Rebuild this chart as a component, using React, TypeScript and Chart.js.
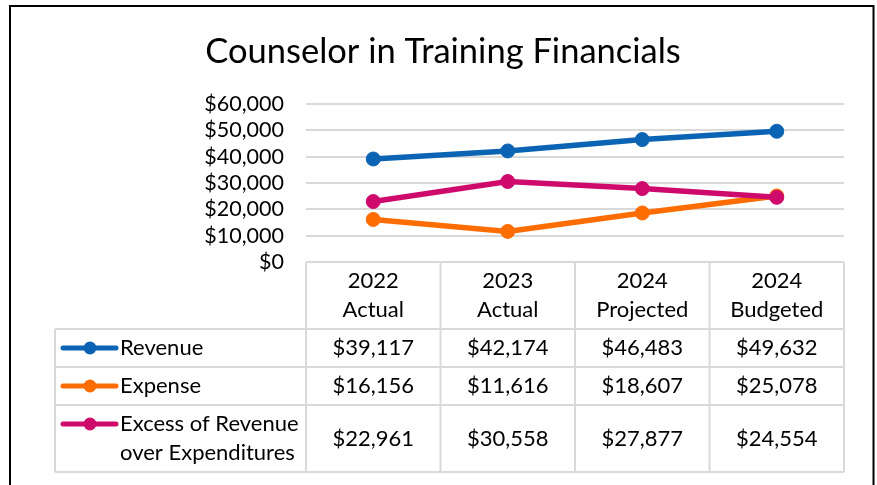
import React, { useEffect, useRef } from "react";
import { Chart, registerables } from "chart.js";

Chart.register(...registerables);

const chartTitle = "Counselor in Training Financials";
const categoryLines: string[][] = [
  ["2022", "Actual"],
  ["2023", "Actual"],
  ["2024", "Projected"],
  ["2024", "Budgeted"],
];
const seriesLabels: string[][] = [
  ["Revenue"],
  ["Expense"],
  ["Excess of Revenue", "over Expenditures"],
];
const revenue = [39117, 42174, 46483, 49632];
const expense = [16156, 11616, 18607, 25078];
const excess = [22961, 30558, 27877, 24554];
const yMin = 0;
const yMax = 60000;
const yStep = 10000;

const seriesValues = [revenue, expense, excess];
const seriesColors = ["#0B64B3", "#FF6D01", "#CF0A6D"];

const FONT = "Lato";
const TEXT_SIZE = 22;
const LINE_H = 29;
const GRID = "#D9D9D9";

const fmt = (v: number) => "$" + v.toLocaleString("en-US");

const tablePlugin = {
  id: "dataTable",
  afterDraw(chart: any) {
    const ctx: CanvasRenderingContext2D = chart.ctx;
    const xs = chart.scales.x;
    const area = chart.chartArea;
    const n = categoryLines.length;
    const half = (xs.getPixelForValue(1) - xs.getPixelForValue(0)) / 2;
    const bounds: number[] = [];
    for (let i = 0; i < n; i++) bounds.push(xs.getPixelForValue(i) - half);
    bounds.push(xs.getPixelForValue(n - 1) + half);
    const legendLeft = 55;
    const rowH = (lines: number) => 9 + lines * LINE_H;

    const top = area.bottom;
    const headerH = rowH(Math.max(...categoryLines.map((c) => c.length)));
    const rowTops: number[] = [top + headerH];
    seriesLabels.forEach((l) => rowTops.push(rowTops[rowTops.length - 1] + rowH(l.length)));
    const bottom = rowTops[rowTops.length - 1];

    ctx.save();
    ctx.strokeStyle = GRID;
    ctx.lineWidth = 2;
    ctx.beginPath();
    ctx.moveTo(bounds[0], top);
    ctx.lineTo(bounds[n], top);
    rowTops.forEach((y) => {
      ctx.moveTo(legendLeft, y);
      ctx.lineTo(bounds[n], y);
    });
    bounds.forEach((bx) => {
      ctx.moveTo(bx, top);
      ctx.lineTo(bx, bottom);
    });
    ctx.moveTo(legendLeft, rowTops[0]);
    ctx.lineTo(legendLeft, bottom);
    ctx.stroke();

    ctx.fillStyle = "#000";
    ctx.font = `${TEXT_SIZE}px ${FONT}`;
    ctx.textAlign = "center";
    ctx.textBaseline = "middle";
    const hc = top + headerH / 2;
    categoryLines.forEach((lines, i) => {
      const cx = xs.getPixelForValue(i);
      lines.forEach((t, k) => {
        ctx.fillText(t, cx, hc + (k - (lines.length - 1) / 2) * LINE_H);
      });
    });
    seriesLabels.forEach((lab, r) => {
      const rt = rowTops[r];
      const rb = rowTops[r + 1];
      const rc = (rt + rb) / 2;
      ctx.textAlign = "center";
      ctx.fillStyle = "#000";
      seriesValues[r].forEach((v, i) => {
        ctx.fillText(fmt(v), xs.getPixelForValue(i), rc);
      });
      const firstY = rc - ((lab.length - 1) / 2) * LINE_H;
      ctx.strokeStyle = seriesColors[r];
      ctx.lineWidth = 5;
      ctx.lineCap = "round";
      ctx.beginPath();
      ctx.moveTo(legendLeft + 8, firstY);
      ctx.lineTo(legendLeft + 61, firstY);
      ctx.stroke();
      ctx.fillStyle = seriesColors[r];
      ctx.beginPath();
      ctx.arc(legendLeft + 35, firstY, 6.5, 0, Math.PI * 2);
      ctx.fill();
      ctx.fillStyle = "#000";
      ctx.textAlign = "left";
      lab.forEach((t, k) => ctx.fillText(t, legendLeft + 65, firstY + k * LINE_H));
    });

    ctx.strokeStyle = "#000";
    ctx.lineWidth = 2;
    ctx.lineCap = "butt";
    ctx.strokeRect(10, 6, 863.5, 700);
    ctx.restore();
  },
};

export default function App() {
  const ref = useRef<HTMLCanvasElement | null>(null);
  useEffect(() => {
    if (!ref.current) return;
    Chart.defaults.font.family = FONT;
    const chart = new Chart(ref.current, {
      type: "line",
      data: {
        labels: categoryLines.map((l) => l.join(" ")),
        datasets: seriesLabels.map((l, i) => ({
          label: l.join(" "),
          data: seriesValues[i],
          borderColor: seriesColors[i],
          backgroundColor: seriesColors[i],
          borderWidth: 5.5,
          pointRadius: 7,
          pointBorderWidth: 1,
          pointBackgroundColor: seriesColors[i],
          pointBorderColor: seriesColors[i],
          fill: false,
          tension: 0,
          order: seriesLabels.length - i,
        })),
      },
      options: {
        animation: false,
        responsive: false,
        layout: { padding: { left: 42, right: 33, top: 0, bottom: 223 } },
        plugins: {
          legend: { display: false },
          tooltip: { enabled: false },
          title: {
            display: true,
            text: chartTitle,
            color: "#000",
            font: { family: FONT, size: 34.5, weight: "normal", lineHeight: 1.2 },
            padding: { top: 31, bottom: 31.6 },
          },
        },
        scales: {
          x: {
            type: "category",
            offset: true,
            grid: { display: false },
            border: { display: false },
            ticks: { display: false },
            afterFit: (s: any) => {
              s.height = 0;
            },
          },
          y: {
            min: yMin,
            max: yMax,
            border: { display: false },
            grid: { color: GRID, lineWidth: 2, drawTicks: false },
            ticks: {
              stepSize: yStep,
              autoSkip: false,
              color: "#000",
              padding: 22,
              font: { family: FONT, size: 21.5 },
              callback: (v: any) => fmt(Number(v)),
            },
            afterFit: (s: any) => {
              s.width = 264;
            },
          },
        },
      },
      plugins: [tablePlugin],
    });
    return () => chart.destroy();
  }, []);
  return (
    <div style={{ position: "absolute", left: 0, top: 0, width: 877, height: 485, background: "#fff" }}>
      <canvas ref={ref} width={877} height={485} style={{ width: 877, height: 485, display: "block" }} />
    </div>
  );
}
